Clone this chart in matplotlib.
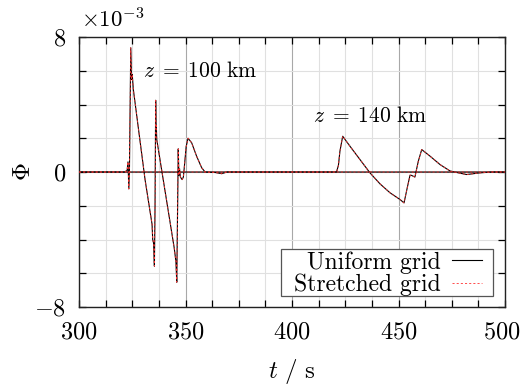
import matplotlib
matplotlib.use("Agg")
import matplotlib.pyplot as plt
import matplotlib.transforms as mtransforms
from matplotlib.patches import Rectangle
from matplotlib.ticker import MultipleLocator, FixedLocator

plt.rcParams["font.family"] = "serif"
plt.rcParams["font.serif"] = ["cmr10"]
plt.rcParams["mathtext.fontset"] = "cm"
plt.rcParams["axes.unicode_minus"] = False

# Potential Phi (in units of 1e-3) versus time t (s)
t_100 = [300.0, 321.5, 322.6, 323.0, 323.4, 323.7, 324.3, 324.7, 325.0, 325.5,
         331.0, 334.3, 334.6, 335.0, 335.4, 335.7, 336.0, 336.2, 336.3, 336.5,
         344.7, 345.2, 345.5, 345.9, 346.6, 346.9, 347.2, 347.6, 348.4, 349.0,
         349.6, 350.3, 351.2, 352.9, 355.2, 357.6, 359.2, 364.0, 367.0, 369.5,
         500.0]
phi_100 = [0.0, 0.0, 0.1, 0.6, -1.0, 0.3, 7.36, 5.48, 5.78, 4.9,
           -0.44, -3.1, -4.0, -4.2, -5.58, -2.0, 4.25, 2.6, 2.75, 1.93,
           -4.5, -5.0, -5.3, -6.53, 1.37, -0.2, 0.2, -0.3, -0.45, -0.3,
           0.5, 1.5, 2.0, 1.73, 0.94, 0.25, 0.0, -0.03, -0.1, 0.0,
           0.0]

t_140 = [300.0, 420.9, 421.8, 422.5, 423.8, 427.2, 431.9, 436.6, 441.3, 446.0,
         450.7, 452.6, 454.1, 455.4, 456.1, 457.7, 459.3, 460.9, 464.8, 469.5,
         474.2, 478.1, 482.0, 488.3, 493.8, 500.0]
phi_140 = [0.0, 0.0, 0.4, 1.23, 2.12, 1.53, 0.74, -0.05, -0.7, -1.23,
           -1.63, -1.83, -0.94, -0.19, -0.2, -0.3, 0.64, 1.33, 0.94, 0.44,
           0.06, -0.05, -0.15, -0.05, 0.0, 0.0]

# stretched-grid run agrees with the uniform one to plotting accuracy
t_100_s, phi_100_s = t_100, phi_100
t_140_s, phi_140_s = t_140, phi_140

x_ticks = [300, 350, 400, 450, 500]
y_ticks = [-8, 0, 8]

fig = plt.figure(figsize=(5.22, 3.86), dpi=100)
ax = fig.add_axes([79 / 522, 1 - 307 / 386, 426 / 522, 270 / 386])

ax.set_xlim(300, 500)
ax.set_ylim(-8, 8)

ax.xaxis.set_major_locator(FixedLocator(x_ticks))
ax.xaxis.set_minor_locator(MultipleLocator(12.5))
ax.yaxis.set_major_locator(FixedLocator(y_ticks))
ax.yaxis.set_minor_locator(MultipleLocator(2))
ax.set_xticklabels([f"${v}$" for v in x_ticks])
ax.set_yticklabels([f"${v}$" if v >= 0 else f"$-{abs(v)}$" for v in y_ticks])

ax.grid(which="minor", color="#e0e0e0", lw=0.8, zorder=0)
ax.grid(which="major", color="#a8a8a8", lw=0.8, zorder=0)
ax.set_axisbelow(True)

ax.tick_params(which="both", direction="in", top=True, right=True,
               length=5, width=0.9, labelsize=17.5)
ax.tick_params(axis="x", pad=10.5)
ax.tick_params(axis="y", pad=9.5)
for s in ax.spines.values():
    s.set_linewidth(1.0)
    s.set_color("#222222")

# keep the last x label inside the canvas
last = ax.get_xticklabels()[-1]
last.set_transform(last.get_transform() +
                   mtransforms.ScaledTranslation(-3 / 100, 0, fig.dpi_scale_trans))

ax.plot(t_100, phi_100, color="black", lw=0.8, label="Uniform grid", zorder=3)
ax.plot(t_140, phi_140, color="black", lw=0.8, zorder=3)
ax.plot(t_100_s, phi_100_s, color="#ff3030", lw=0.6, ls=(0, (2.5, 2.5)),
        label="Stretched grid", zorder=4)
ax.plot(t_140_s, phi_140_s, color="#ff3030", lw=0.6, ls=(0, (2.5, 2.5)), zorder=4)

ax.text(330, 6.0, r"$z\;=\;100\ \mathrm{km}$", fontsize=15.5, va="center", ha="left")
ax.text(409.9, 3.3, r"$z\;=\;140\ \mathrm{km}$", fontsize=15.5, va="center", ha="left")

ax.text(0.005, 1.02, r"$\times 10^{-3}$", transform=ax.transAxes, fontsize=16.5,
        ha="left", va="bottom")

ax.set_xlabel(r"$t\ /\ \mathrm{s}$", fontsize=18, labelpad=9.5)
ax.set_ylabel(r"$\Phi$", fontsize=18, labelpad=-1)

leg = ax.legend(loc="lower right", markerfirst=False, fontsize=17,
                frameon=False, handlelength=1.25, handletextpad=0.5,
                borderpad=0.0, labelspacing=0.0,
                bbox_to_anchor=(1.0, 0.0), borderaxespad=0.0)
leg.set_zorder(6)

# frame around the legend, with wider side margins than the default box
fig.canvas.draw()
bb = leg.get_window_extent().transformed(ax.transAxes.inverted())
ax_w, ax_h = 426.0, 270.0
pad_l, pad_r, pad_t, pad_b = 13 / ax_w, 11 / ax_w, 2 / ax_h, 0 / ax_h
gap_r, gap_b = 12 / ax_w, 11 / ax_h
w = bb.width + pad_l + pad_r
h = bb.height + pad_t + pad_b
x0 = 1.0 - gap_r - w
y0 = gap_b
leg.set_bbox_to_anchor((1.0 - gap_r - pad_r, y0 + pad_b), transform=ax.transAxes)
ax.add_patch(Rectangle((x0, y0), w, h, transform=ax.transAxes, facecolor="white",
                       edgecolor="#555555", lw=0.9, zorder=5))

fig.savefig("out.png", dpi=100)
